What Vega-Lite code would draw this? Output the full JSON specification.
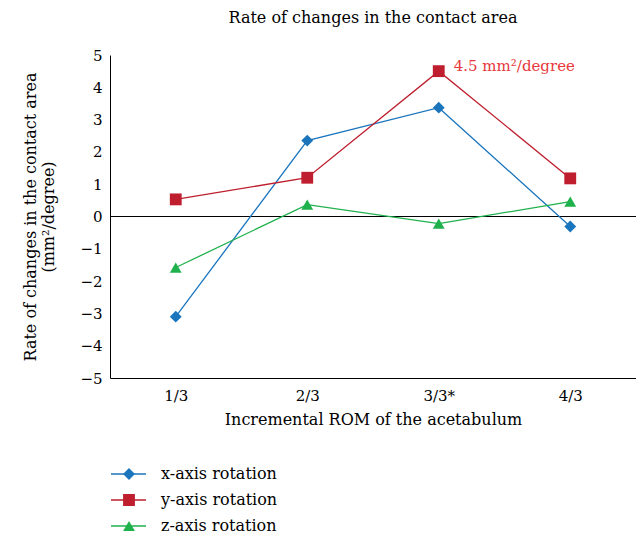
{
  "$schema": "https://vega.github.io/schema/vega-lite/v6.json",
  "width": 526,
  "height": 323,
  "autosize": "none",
  "padding": {"left": 110, "top": 55, "right": 0, "bottom": 158},
  "background": "white",
  "config": {
    "font": "DejaVu Serif",
    "view": {"stroke": null},
    "axis": {"grid": false, "ticks": false, "domainColor": "black", "labelColor": "black", "titleColor": "black", "labelFont": "DejaVu Serif", "titleFont": "DejaVu Serif", "labelFontSize": 15, "titleFontSize": 16, "titleFontWeight": "normal"},
    "legend": {"labelFont": "DejaVu Serif", "labelFontSize": 16, "labelColor": "black"}
  },
  "title": {"text": "Rate of changes in the contact area", "font": "DejaVu Serif", "fontSize": 16, "fontWeight": "normal", "anchor": "middle", "offset": 22, "color": "black"},
  "data": {"values": [
    {"rom": "1/3", "series": "x-axis rotation", "rate": -3.1},
    {"rom": "2/3", "series": "x-axis rotation", "rate": 2.35},
    {"rom": "3/3*", "series": "x-axis rotation", "rate": 3.37},
    {"rom": "4/3", "series": "x-axis rotation", "rate": -0.31},
    {"rom": "1/3", "series": "y-axis rotation", "rate": 0.53},
    {"rom": "2/3", "series": "y-axis rotation", "rate": 1.2},
    {"rom": "3/3*", "series": "y-axis rotation", "rate": 4.5},
    {"rom": "4/3", "series": "y-axis rotation", "rate": 1.18},
    {"rom": "1/3", "series": "z-axis rotation", "rate": -1.58},
    {"rom": "2/3", "series": "z-axis rotation", "rate": 0.37},
    {"rom": "3/3*", "series": "z-axis rotation", "rate": -0.22},
    {"rom": "4/3", "series": "z-axis rotation", "rate": 0.46}
  ]},
  "encoding": {
    "x": {"field": "rom", "type": "ordinal", "sort": ["1/3", "2/3", "3/3*", "4/3"],
      "scale": {"paddingInner": 0, "paddingOuter": 0.5},
      "axis": {"title": "Incremental ROM of the acetabulum", "labelAngle": 0, "labelPadding": 10, "titlePadding": 8, "labelFont": "DejaVu Serif", "titleFont": "DejaVu Serif"}},
    "y": {"field": "rate", "type": "quantitative",
      "scale": {"domain": [-5, 5], "nice": false},
      "axis": {"title": ["Rate of changes in the contact area", "(mm²/degree)"], "values": [-5,-4,-3,-2,-1,0,1,2,3,4,5], "labelPadding": 8, "titlePadding": 23, "labelFont": "DejaVu Serif", "titleFont": "DejaVu Serif"}}
  },
  "layer": [
    {
      "data": {"values": [{"z": 0}]},
      "mark": {"type": "rule", "color": "black", "strokeWidth": 1},
      "encoding": {"y": {"field": "z", "type": "quantitative"}, "x": null}
    },
    {
      "mark": {"type": "line", "strokeWidth": 1.3},
      "encoding": {
        "stroke": {"field": "series", "type": "nominal",
          "scale": {"domain": ["z-axis rotation", "y-axis rotation", "x-axis rotation"], "range": ["#1fb14c", "#be1e2d", "#1b75bc"]},
          "legend": {"orient": "none", "legendX": 0, "legendY": 410, "title": null, "values": ["x-axis rotation", "y-axis rotation", "z-axis rotation"], "symbolType": "stroke", "symbolSize": 1225, "symbolStrokeWidth": 1.5, "clipHeight": 18, "labelOffset": 13, "rowPadding": 8, "labelColor": "transparent", "labelFont": "DejaVu Serif"}}
      }
    },
    {
      "mark": {"type": "point", "filled": true, "opacity": 1},
      "encoding": {
        "color": {"field": "series", "type": "nominal",
          "scale": {"domain": ["x-axis rotation", "y-axis rotation", "z-axis rotation"], "range": ["#1b75bc", "#be1e2d", "#1fb14c"]},
          "legend": {"orient": "none", "legendX": 11, "legendY": 410, "title": null, "symbolSize": 140, "clipHeight": 18, "rowPadding": 8, "labelOffset": 24, "labelFont": "DejaVu Serif", "symbolOpacity": 1,
            "encode": {"labels": {"update": {"font": {"value": "DejaVu Serif"}}}}}},
        "shape": {"field": "series", "type": "nominal",
          "scale": {"domain": ["x-axis rotation", "y-axis rotation", "z-axis rotation"], "range": ["diamond", "square", "triangle-up"]},
          "legend": {"orient": "none", "legendX": 11, "legendY": 410, "title": null, "symbolSize": 140, "clipHeight": 18, "rowPadding": 8, "labelOffset": 24, "labelFont": "DejaVu Serif", "symbolOpacity": 1,
            "encode": {"labels": {"update": {"font": {"value": "DejaVu Serif"}}}}}},
        "size": {"value": 140}
      }
    },
    {
      "transform": [{"filter": "datum.series === 'y-axis rotation' && datum.rom === '3/3*'"}],
      "mark": {"type": "text", "align": "left", "dx": 15, "dy": -5, "fontSize": 15, "color": "#e8373d", "font": "DejaVu Serif"},
      "encoding": {"text": {"value": "4.5 mm²/degree"}}
    }
  ]
}
